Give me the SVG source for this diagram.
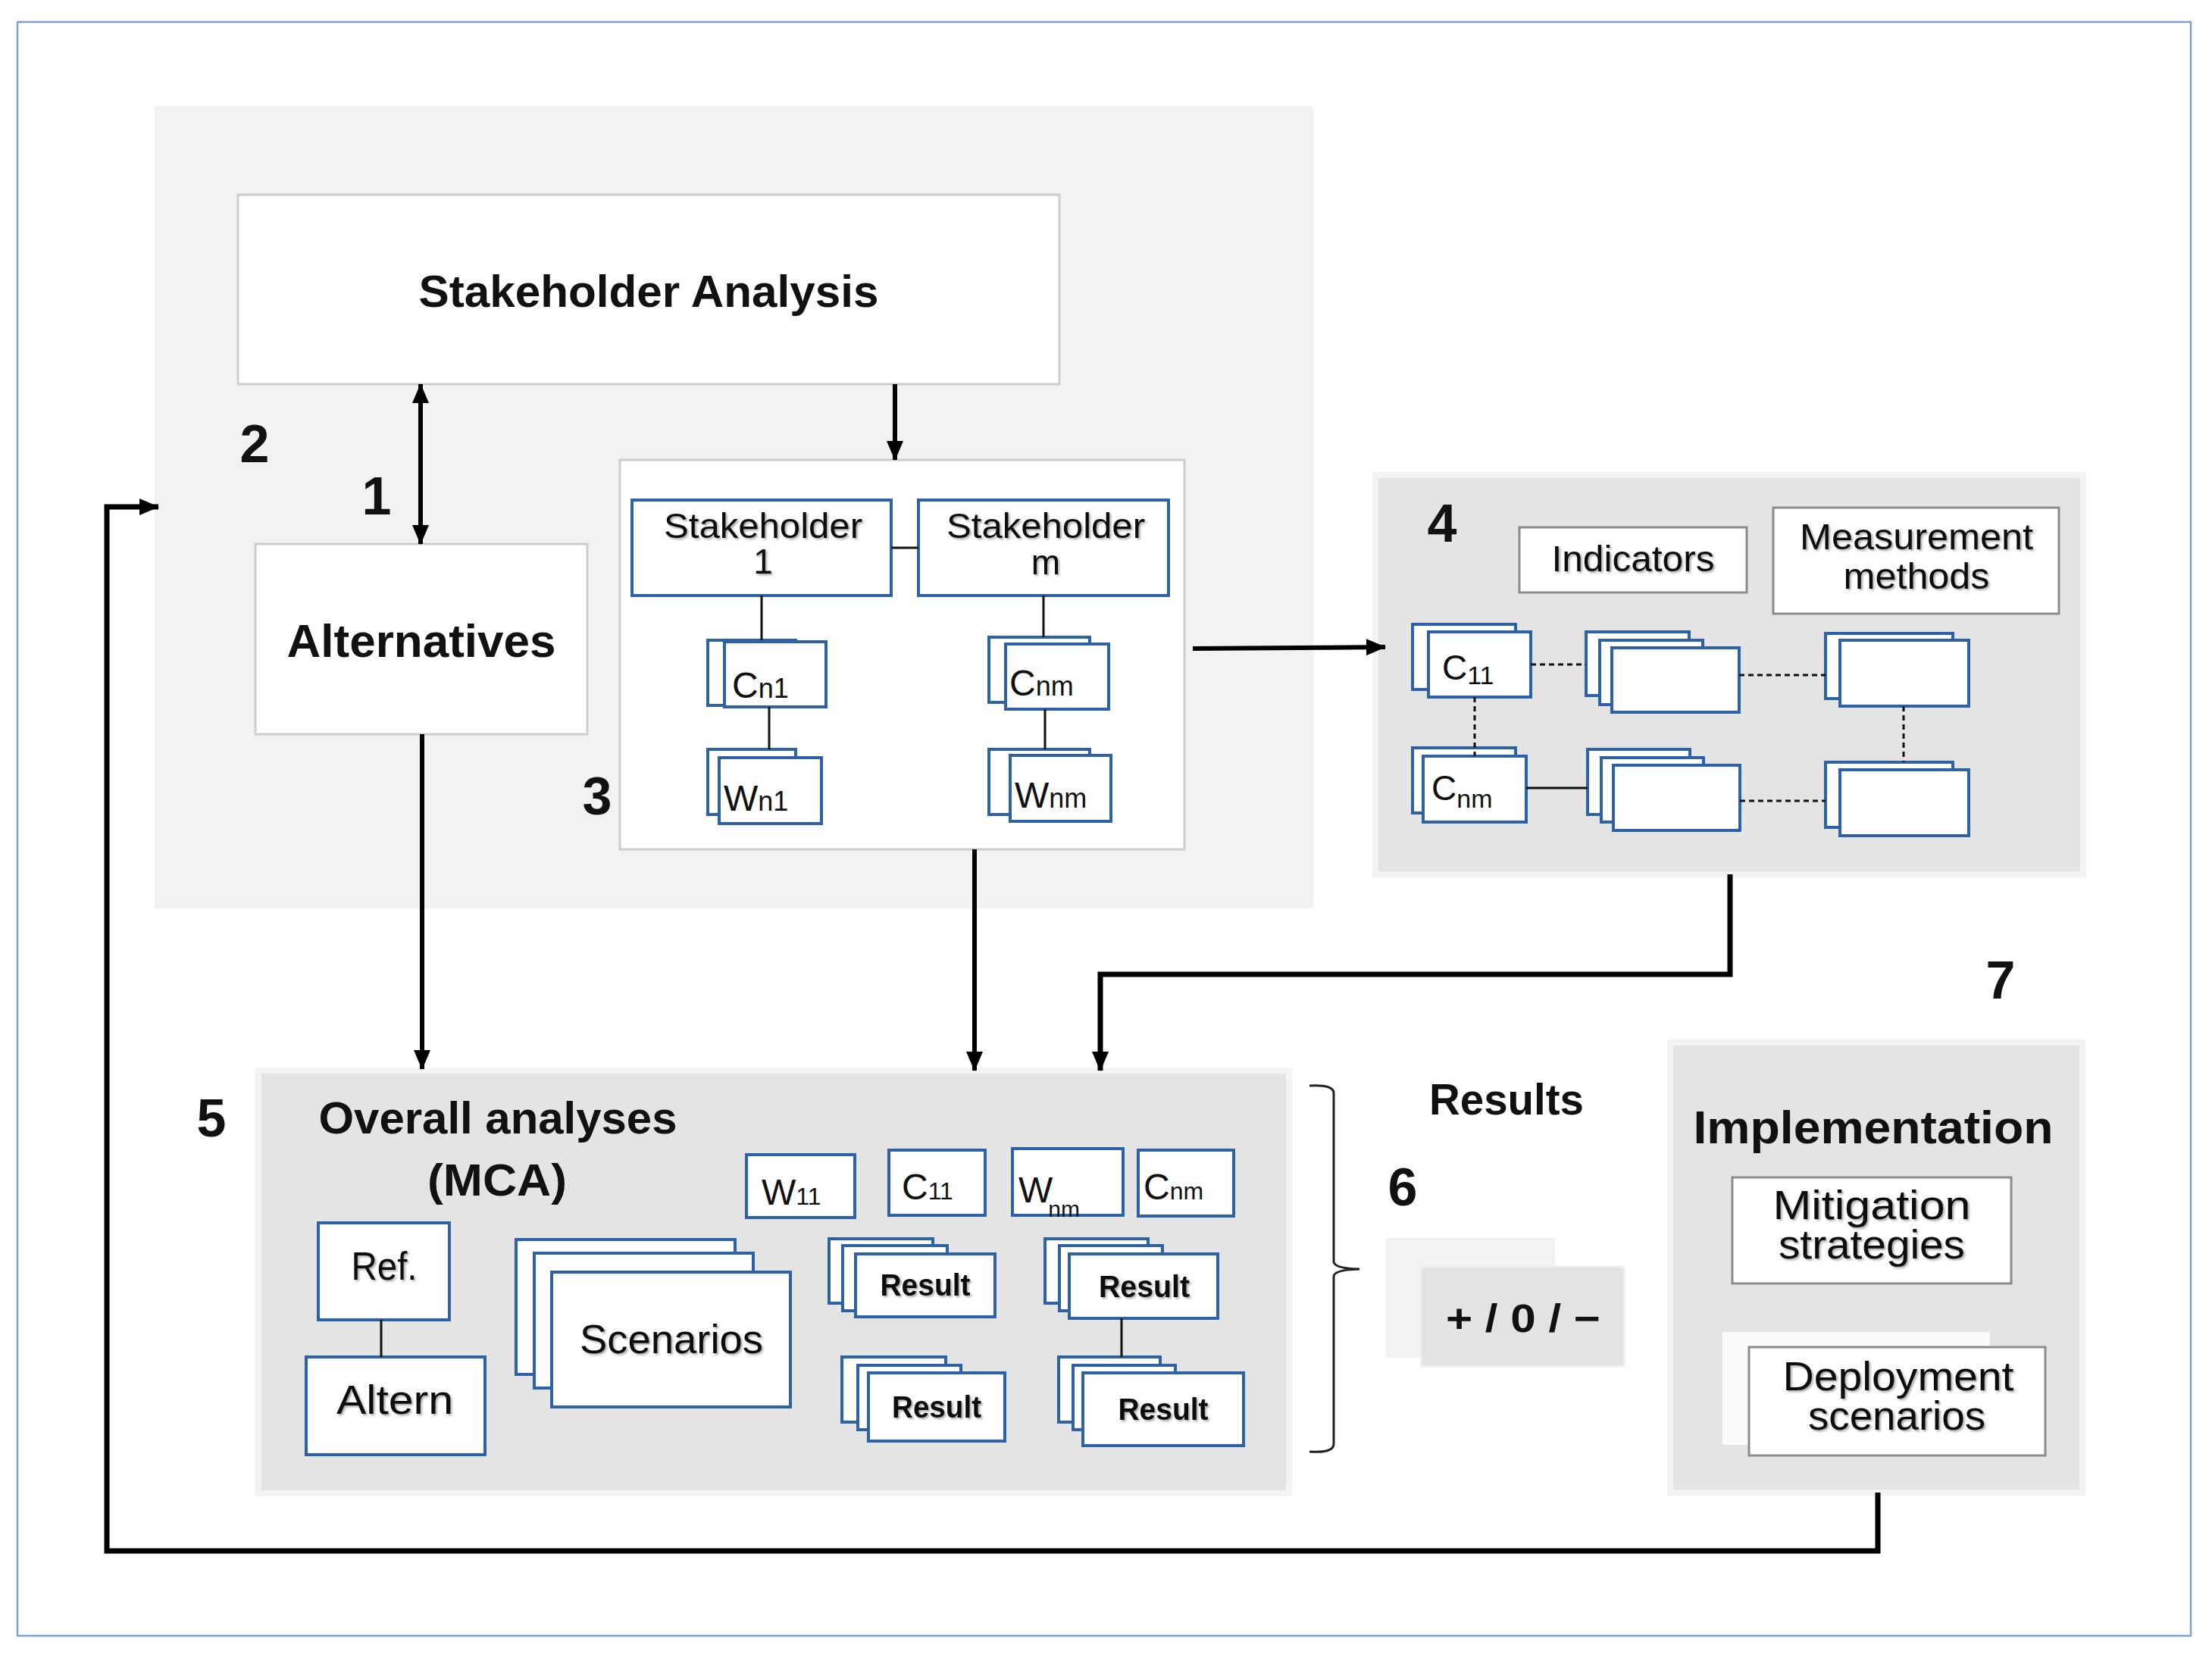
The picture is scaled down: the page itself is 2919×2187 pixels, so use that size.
<svg xmlns="http://www.w3.org/2000/svg" width="2919" height="2187" viewBox="0 0 2919 2187">
<defs>
<style>
text{font-family:"Liberation Sans",Arial,sans-serif;fill:#111;text-anchor:middle}
text.s{text-anchor:start}
.b{font-weight:bold}
.num{font-weight:bold;font-size:70px}
.panel{fill:#F2F2F2}
.gbox{fill:#E4E4E4;stroke:#F3F3F3;stroke-width:8}
.wbox{fill:#fff;stroke:#CDCDCD;stroke-width:3}
.bl{fill:#fff;stroke:#2E62A6;stroke-width:4}
.gr{fill:#fff;stroke:#8C8C8C;stroke-width:3}
.ln{stroke:#111;stroke-width:3;fill:none}
.dash{stroke:#111;stroke-width:3;stroke-dasharray:7 5;fill:none}
.ar{stroke:#000;stroke-width:6;fill:none}
.ar2{stroke:#000;stroke-width:7;fill:none}
.sh{filter:url(#sh)}
</style>
<filter id="sh" x="-10%" y="-20%" width="120%" height="140%">
<feDropShadow dx="2" dy="2" stdDeviation="1.5" flood-color="#000" flood-opacity="0.35"/>
</filter>
<marker id="ah" viewBox="0 0 26 22" refX="25" refY="11" markerWidth="26" markerHeight="22" markerUnits="userSpaceOnUse" orient="auto-start-reverse">
<path d="M0,0 L26,11 L0,22 Z" fill="#000"/>
</marker>
</defs>

<rect x="23" y="29" width="2868" height="2130" fill="#fff" stroke="#7F9FCF" stroke-width="2.5"/>

<g id="panel-stakeholders">
<rect class="panel" x="204" y="140" width="1529" height="1059"/>
<text class="num" x="336" y="610">2</text>
<text class="num" x="497" y="679">1</text>
<text class="num" x="788" y="1075">3</text>
</g>

<g id="stakeholder-analysis">
<rect class="wbox" x="314" y="257" width="1084" height="250"/>
<text class="b" x="856" y="405" font-size="60" textLength="607" lengthAdjust="spacingAndGlyphs">Stakeholder Analysis</text>
</g>

<g id="alternatives">
<rect class="wbox" x="337" y="718" width="438" height="251"/>
<text class="b" x="556" y="867" font-size="62" textLength="355" lengthAdjust="spacingAndGlyphs">Alternatives</text>
</g>

<g id="stakeholder-set">
<rect class="wbox" x="818" y="607" width="745" height="514"/>
</g>

<g id="stakeholder-1">
<rect class="bl" x="834" y="660" width="342" height="126"/>
<text class="sh" x="1007" y="710" font-size="46" textLength="262" lengthAdjust="spacingAndGlyphs">Stakeholder</text>
<text class="sh" x="1007" y="757" font-size="46">1</text>
</g>

<g id="stakeholder-m">
<rect class="bl" x="1212" y="660" width="330" height="126"/>
<text class="sh" x="1380" y="710" font-size="46" textLength="262" lengthAdjust="spacingAndGlyphs">Stakeholder</text>
<text class="sh" x="1380" y="758" font-size="46">m</text>
</g>

<g id="cn1">
<rect class="bl" x="934" y="845" width="116" height="86"/>
<rect class="bl" x="956" y="847" width="134" height="86"/>
<text class="s" x="966" y="921" font-size="48">C<tspan font-size="36">n1</tspan></text>
</g>

<g id="wn1">
<rect class="bl" x="934" y="989" width="116" height="86"/>
<rect class="bl" x="949" y="1000" width="135" height="87"/>
<text class="s" x="955" y="1070" font-size="48">W<tspan font-size="36">n1</tspan></text>
</g>

<g id="cnm-s">
<rect class="bl" x="1305" y="841" width="133" height="86"/>
<rect class="bl" x="1327" y="850" width="136" height="86"/>
<text class="s" x="1332" y="918" font-size="48">C<tspan font-size="36">nm</tspan></text>
</g>

<g id="wnm-s">
<rect class="bl" x="1305" y="989" width="133" height="86"/>
<rect class="bl" x="1333" y="997" width="133" height="87"/>
<text class="s" x="1339" y="1066" font-size="48">W<tspan font-size="36">nm</tspan></text>
</g>

<g id="panel-4">
<rect class="gbox" x="1815" y="627" width="934" height="527"/>
<text class="num" x="1903" y="715">4</text>
</g>

<g id="indicators">
<rect class="gr" x="2005" y="696" width="300" height="86"/>
<text class="sh" x="2155" y="754" font-size="48" textLength="215" lengthAdjust="spacingAndGlyphs">Indicators</text>
</g>

<g id="measurement-methods">
<rect class="gr" x="2340" y="670" width="377" height="140"/>
<text class="sh" x="2529" y="725" font-size="48" textLength="308" lengthAdjust="spacingAndGlyphs">Measurement</text>
<text class="sh" x="2529" y="777" font-size="48" textLength="193" lengthAdjust="spacingAndGlyphs">methods</text>
</g>

<g id="c11-4">
<rect class="bl" x="1864" y="824" width="136" height="86"/>
<rect class="bl" x="1885" y="834" width="135" height="86"/>
<text class="s" x="1903" y="897" font-size="46">C<tspan font-size="34" dy="6">11</tspan></text>
</g>

<g id="cnm-4">
<rect class="bl" x="1864" y="987" width="136" height="86"/>
<rect class="bl" x="1878" y="998" width="136" height="87"/>
<text class="s" x="1889" y="1056" font-size="46">C<tspan font-size="34" dy="10">nm</tspan></text>
</g>

<g id="ind-stack-1">
<rect class="bl" x="2093" y="834" width="136" height="84"/>
<rect class="bl" x="2111" y="845" width="136" height="85"/>
<rect class="bl" x="2127" y="855" width="168" height="85"/>
</g>
<g id="ind-stack-2">
<rect class="bl" x="2409" y="836" width="168" height="86"/>
<rect class="bl" x="2428" y="845" width="170" height="87"/>
</g>
<g id="ind-stack-3">
<rect class="bl" x="2095" y="989" width="135" height="86"/>
<rect class="bl" x="2113" y="1000" width="135" height="85"/>
<rect class="bl" x="2129" y="1010" width="167" height="86"/>
</g>
<g id="ind-stack-4">
<rect class="bl" x="2409" y="1006" width="168" height="86"/>
<rect class="bl" x="2428" y="1016" width="170" height="87"/>
</g>

<g id="panel-5">
<rect class="gbox" x="341" y="1413" width="1360" height="558"/>
<text class="num" x="279" y="1500">5</text>
<text class="b" x="657" y="1496" font-size="60" textLength="473" lengthAdjust="spacingAndGlyphs">Overall analyses</text>
<text class="b" x="656" y="1578" font-size="60" textLength="184" lengthAdjust="spacingAndGlyphs">(MCA)</text>
</g>

<g id="w11">
<rect class="bl" x="985" y="1524" width="143" height="83"/>
<text class="s" x="1005" y="1590" font-size="48">W<tspan font-size="32">11</tspan></text>
</g>
<g id="c11">
<rect class="bl" x="1173" y="1518" width="127" height="86"/>
<text class="s" x="1190" y="1583" font-size="48">C<tspan font-size="32">11</tspan></text>
</g>
<g id="wnm">
<rect class="bl" x="1336" y="1516" width="146" height="88"/>
<text class="s" x="1344" y="1587" font-size="48">W<tspan font-size="30" dx="-6" dy="19">nm</tspan></text>
</g>
<g id="cnm">
<rect class="bl" x="1502" y="1518" width="126" height="87"/>
<text class="s" x="1509" y="1583" font-size="48">C<tspan font-size="32">nm</tspan></text>
</g>

<g id="ref">
<rect class="bl" x="420" y="1614" width="173" height="128"/>
<text class="sh" x="507" y="1689" font-size="52" textLength="87" lengthAdjust="spacingAndGlyphs">Ref.</text>
</g>
<g id="altern">
<rect class="bl" x="404" y="1791" width="236" height="129"/>
<text class="sh" x="521" y="1866" font-size="54" textLength="154" lengthAdjust="spacingAndGlyphs">Altern</text>
</g>

<g id="scenarios">
<rect class="bl" x="681" y="1636" width="289" height="178"/>
<rect class="bl" x="705" y="1654" width="289" height="178"/>
<rect class="bl" x="728" y="1679" width="315" height="178"/>
<text class="sh" x="886" y="1786" font-size="54" textLength="242" lengthAdjust="spacingAndGlyphs">Scenarios</text>
</g>

<g id="result-1">
<rect class="bl" x="1094" y="1635" width="137" height="85"/>
<rect class="bl" x="1112" y="1644" width="138" height="86"/>
<rect class="bl" x="1129" y="1655" width="184" height="83"/>
<text class="b sh" x="1221" y="1710" font-size="40" textLength="119" lengthAdjust="spacingAndGlyphs">Result</text>
</g>
<g id="result-2">
<rect class="bl" x="1379" y="1635" width="136" height="85"/>
<rect class="bl" x="1398" y="1644" width="136" height="86"/>
<rect class="bl" x="1411" y="1655" width="196" height="85"/>
<text class="b sh" x="1510" y="1712" font-size="40" textLength="120" lengthAdjust="spacingAndGlyphs">Result</text>
</g>
<g id="result-3">
<rect class="bl" x="1111" y="1791" width="137" height="86"/>
<rect class="bl" x="1132" y="1802" width="136" height="85"/>
<rect class="bl" x="1146" y="1812" width="180" height="90"/>
<text class="b sh" x="1236" y="1871" font-size="40" textLength="118" lengthAdjust="spacingAndGlyphs">Result</text>
</g>
<g id="result-4">
<rect class="bl" x="1397" y="1791" width="134" height="86"/>
<rect class="bl" x="1416" y="1802" width="135" height="85"/>
<rect class="bl" x="1429" y="1812" width="212" height="96"/>
<text class="b sh" x="1535" y="1874" font-size="40" textLength="119" lengthAdjust="spacingAndGlyphs">Result</text>
</g>

<g id="results-6">
<path d="M1728,1433 Q1760,1431 1760,1443 L1760,1665 Q1760,1674 1794,1675 Q1760,1676 1760,1685 L1760,1906 Q1760,1918 1728,1916" fill="none" stroke="#222" stroke-width="3"/>
<text class="b" x="1988" y="1471" font-size="58" textLength="204" lengthAdjust="spacingAndGlyphs">Results</text>
<text class="num" x="1851" y="1591">6</text>
<rect x="1829" y="1634" width="223" height="158" fill="#F2F2F2"/>
<rect x="1875" y="1672" width="268" height="131" fill="#E3E3E3" stroke="#EEEEEE" stroke-width="3"/>
<text class="b" x="2010" y="1758" font-size="52" textLength="204" lengthAdjust="spacingAndGlyphs">+ / 0 / −</text>
</g>

<g id="implementation-7">
<text class="num" x="2640" y="1318">7</text>
<rect class="gbox" x="2204" y="1376" width="544" height="594"/>
<text class="b" x="2472" y="1509" font-size="62" textLength="475" lengthAdjust="spacingAndGlyphs">Implementation</text>
</g>
<g id="mitigation">
<rect class="gr" x="2286" y="1554" width="368" height="140"/>
<text class="sh" x="2470" y="1609" font-size="54" textLength="261" lengthAdjust="spacingAndGlyphs">Mitigation</text>
<text class="sh" x="2470" y="1661" font-size="54" textLength="246" lengthAdjust="spacingAndGlyphs">strategies</text>
</g>
<g id="deployment">
<rect x="2273" y="1758" width="353" height="149" fill="#FAFAFA"/>
<rect class="gr" x="2308" y="1778" width="391" height="143"/>
<text class="sh" x="2505" y="1835" font-size="54" textLength="305" lengthAdjust="spacingAndGlyphs">Deployment</text>
<text class="sh" x="2503" y="1887" font-size="54" textLength="234" lengthAdjust="spacingAndGlyphs">scenarios</text>
</g>

<g id="connectors">
<line class="ln" x1="1176" y1="723" x2="1212" y2="723"/>
<line class="ln" x1="1005" y1="786" x2="1005" y2="845"/>
<line class="ln" x1="1015" y1="933" x2="1015" y2="989"/>
<line class="ln" x1="1377" y1="786" x2="1377" y2="841"/>
<line class="ln" x1="1379" y1="936" x2="1379" y2="989"/>
<line class="dash" x1="2020" y1="877" x2="2093" y2="877"/>
<line class="dash" x1="2295" y1="891" x2="2409" y2="891"/>
<line class="dash" x1="2512" y1="932" x2="2512" y2="1006"/>
<line class="dash" x1="1946" y1="920" x2="1946" y2="998"/>
<line class="ln" x1="2014" y1="1040" x2="2095" y2="1040"/>
<line class="dash" x1="2296" y1="1057" x2="2409" y2="1057"/>
<line class="ln" x1="503" y1="1742" x2="503" y2="1791"/>
<line class="ln" x1="1480" y1="1740" x2="1480" y2="1791"/>
<line class="ar" x1="555" y1="507" x2="555" y2="718" marker-start="url(#ah)" marker-end="url(#ah)"/>
<line class="ar" x1="1181" y1="507" x2="1181" y2="607" marker-end="url(#ah)"/>
<line class="ar" x1="557" y1="969" x2="557" y2="1411" marker-end="url(#ah)"/>
<line class="ar" x1="1286" y1="1121" x2="1286" y2="1413" marker-end="url(#ah)"/>
<line class="ar" x1="1574" y1="856" x2="1828" y2="854" marker-end="url(#ah)"/>
<polyline class="ar2" points="2283,1154 2283,1286 1452,1286 1452,1413" marker-end="url(#ah)"/>
<polyline class="ar2" points="2478,1970 2478,2047 141,2047 141,669 209,669" marker-end="url(#ah)"/>
</g>
</svg>
